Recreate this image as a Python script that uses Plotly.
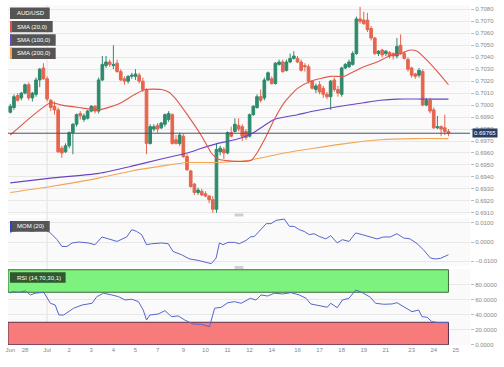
import plotly.graph_objects as go

# ---------------- data (AUD/USD, 4H candles, 27 Jun - 24 Jul) ----------------
candle_open = [0.6994, 0.6998, 0.7008, 0.7006, 0.7010, 0.7017, 0.7006, 0.7009, 0.7021, 0.7031,
               0.7022, 0.7004, 0.6999, 0.6996, 0.6964, 0.6961, 0.6966, 0.6977, 0.6984, 0.6993,
               0.6988, 0.6989, 0.6995, 0.6999, 0.6995, 0.7021, 0.7033, 0.7036, 0.7033, 0.7035,
               0.7028, 0.7022, 0.7020, 0.7024, 0.7024, 0.7025, 0.7020, 0.7013, 0.6968, 0.6980,
               0.6983, 0.6981, 0.6984, 0.6988, 0.6992, 0.6971, 0.6968, 0.6974, 0.6957, 0.6945,
               0.6934, 0.6927, 0.6928, 0.6926, 0.6924, 0.6921, 0.6913, 0.6961, 0.6963, 0.6960,
               0.6977, 0.6978, 0.6983, 0.6982, 0.6978, 0.6974, 0.6992, 0.6998, 0.7007, 0.7006,
               0.7021, 0.7022, 0.7018, 0.7034, 0.7036, 0.7029, 0.7036, 0.7039, 0.7039, 0.7036,
               0.7033, 0.7032, 0.7020, 0.7013, 0.7017, 0.7014, 0.7009, 0.7007, 0.7021, 0.7013,
               0.7009, 0.7031, 0.7032, 0.7034, 0.7043, 0.7072, 0.7071, 0.7071, 0.7064, 0.7056,
               0.7043, 0.7046, 0.7043, 0.7044, 0.7043, 0.7041, 0.7050, 0.7043, 0.7038, 0.7031,
               0.7026, 0.7025, 0.7028, 0.7000, 0.7004, 0.6996, 0.6981, 0.6982, 0.6981, 0.6978]
candle_high = [0.7001, 0.7009, 0.7010, 0.7011, 0.7018, 0.7019, 0.7011, 0.7023, 0.7031, 0.7035,
               0.7024, 0.7005, 0.7003, 0.6998, 0.6966, 0.6968, 0.6978, 0.6985, 0.6993, 0.6995,
               0.6993, 0.6996, 0.7000, 0.7000, 0.7023, 0.7041, 0.7041, 0.7038, 0.7050, 0.7038,
               0.7030, 0.7024, 0.7025, 0.7027, 0.7030, 0.7027, 0.7023, 0.7014, 0.6984, 0.6984,
               0.6985, 0.6986, 0.6993, 0.6995, 0.6993, 0.6975, 0.6977, 0.6976, 0.6959, 0.6946,
               0.6935, 0.6931, 0.6930, 0.6928, 0.6925, 0.6924, 0.6968, 0.6966, 0.6965, 0.6978,
               0.6982, 0.6989, 0.6989, 0.6984, 0.6980, 0.6993, 0.7000, 0.7009, 0.7013, 0.7023,
               0.7028, 0.7024, 0.7036, 0.7038, 0.7038, 0.7038, 0.7043, 0.7045, 0.7041, 0.7038,
               0.7035, 0.7034, 0.7021, 0.7018, 0.7020, 0.7016, 0.7011, 0.7021, 0.7023, 0.7016,
               0.7032, 0.7035, 0.7038, 0.7045, 0.7074, 0.7082, 0.7078, 0.7077, 0.7066, 0.7057,
               0.7046, 0.7047, 0.7046, 0.7045, 0.7044, 0.7056, 0.7059, 0.7045, 0.7040, 0.7032,
               0.7027, 0.7031, 0.7030, 0.7006, 0.7006, 0.6998, 0.6991, 0.6983, 0.6992, 0.6980]
candle_low = [0.6993, 0.6996, 0.7003, 0.7004, 0.7009, 0.7004, 0.7003, 0.7007, 0.7015, 0.7021,
              0.7003, 0.6995, 0.6992, 0.6960, 0.6956, 0.6960, 0.6964, 0.6959, 0.6982, 0.6988,
              0.6986, 0.6988, 0.6994, 0.6993, 0.6993, 0.7020, 0.7031, 0.7032, 0.7030, 0.7027,
              0.7020, 0.7017, 0.7018, 0.7022, 0.7021, 0.7018, 0.7011, 0.6959, 0.6967, 0.6978,
              0.6977, 0.6980, 0.6982, 0.6986, 0.6967, 0.6967, 0.6966, 0.6956, 0.6945, 0.6931,
              0.6925, 0.6925, 0.6924, 0.6923, 0.6918, 0.6910, 0.6910, 0.6958, 0.6955, 0.6959,
              0.6973, 0.6977, 0.6978, 0.6970, 0.6971, 0.6973, 0.6991, 0.6997, 0.7002, 0.7004,
              0.7020, 0.7017, 0.7017, 0.7033, 0.7027, 0.7028, 0.7035, 0.7038, 0.7035, 0.7028,
              0.7028, 0.7018, 0.7013, 0.7010, 0.7009, 0.7006, 0.7005, 0.6996, 0.7011, 0.7007,
              0.7007, 0.7030, 0.7031, 0.7033, 0.7042, 0.7068, 0.7067, 0.7061, 0.7054, 0.7042,
              0.7041, 0.7040, 0.7041, 0.7039, 0.7038, 0.7039, 0.7042, 0.7038, 0.7028, 0.7023,
              0.7022, 0.7023, 0.6999, 0.6999, 0.6993, 0.6980, 0.6980, 0.6974, 0.6975, 0.6974]
candle_close = [0.6999, 0.7007, 0.7004, 0.7010, 0.7017, 0.7006, 0.7010, 0.7021, 0.7030, 0.7022,
                0.7005, 0.6998, 0.6996, 0.6961, 0.6960, 0.6966, 0.6977, 0.6984, 0.6992, 0.6991,
                0.6991, 0.6995, 0.6999, 0.6995, 0.7021, 0.7034, 0.7036, 0.7034, 0.7034, 0.7028,
                0.7021, 0.7020, 0.7024, 0.7025, 0.7026, 0.7020, 0.7013, 0.6968, 0.6982, 0.6982,
                0.6980, 0.6985, 0.6992, 0.6993, 0.6968, 0.6968, 0.6975, 0.6957, 0.6946, 0.6932,
                0.6927, 0.6929, 0.6925, 0.6924, 0.6921, 0.6913, 0.6963, 0.6964, 0.6960, 0.6977,
                0.6974, 0.6984, 0.6980, 0.6974, 0.6973, 0.6992, 0.6999, 0.7007, 0.7004, 0.7021,
                0.7027, 0.7018, 0.7035, 0.7036, 0.7028, 0.7036, 0.7039, 0.7041, 0.7036, 0.7029,
                0.7032, 0.7020, 0.7014, 0.7016, 0.7011, 0.7009, 0.7007, 0.7020, 0.7013, 0.7010,
                0.7031, 0.7034, 0.7036, 0.7043, 0.7072, 0.7070, 0.7068, 0.7063, 0.7056, 0.7043,
                0.7045, 0.7042, 0.7045, 0.7041, 0.7041, 0.7049, 0.7043, 0.7039, 0.7030, 0.7025,
                0.7024, 0.7029, 0.7000, 0.7004, 0.6995, 0.6981, 0.6982, 0.6980, 0.6978, 0.69765]
candle_idx = list(range(len(candle_close)))

day_tick_pos = [0, 4, 10, 16, 22, 28, 34, 40, 47, 53, 59, 65, 71, 78, 84, 90, 96, 102, 109, 115, 121]
day_tick_text = ["Jun", "28", "Jul", "2", "3", "4", "5", "7", "9", "10", "11", "12",
                 "14", "16", "17", "18", "19", "21", "23", "24", "25"]

sma20_x = [0, 11, 14, 18.6, 24, 29.4, 33.9, 36.6, 41, 43, 44.7, 48.3, 52, 54.6, 56.4, 61, 63.5,
           65.5, 67, 69, 71.7, 74.4, 78, 81.6, 87, 90.6, 93.3, 96, 99.6, 103, 106, 108.6, 110.5,
           113, 116, 119]
sma20_y = [0.6975, 0.7002, 0.7000, 0.6998, 0.6996, 0.7001, 0.7009, 0.7013, 0.7013, 0.7011,
           0.7006, 0.6991, 0.6974, 0.6960, 0.6955, 0.6953, 0.6953, 0.6954, 0.6960, 0.6971,
           0.6988, 0.7002, 0.7014, 0.7020, 0.7024, 0.7024, 0.7028, 0.7032, 0.7036, 0.7041,
           0.7043, 0.7046, 0.7045, 0.7038, 0.7028, 0.7017]

sma100_x = [0, 11, 24, 33, 41, 48, 52, 56.4, 61, 65.5, 69, 71.7, 78, 82.5, 89.7, 96, 100.5, 105, 112, 119]
sma100_y = [0.6935, 0.6939, 0.6943, 0.6949, 0.6955, 0.6960, 0.6964, 0.6968, 0.6971, 0.6976,
            0.6983, 0.6988, 0.6992, 0.6995, 0.6999, 0.7002, 0.7004, 0.7005, 0.7005, 0.7005]

sma200_x = [0, 11, 24, 33, 41, 48, 56, 61, 65, 74.4, 82.5, 91.5, 100.5, 109.5, 119]
sma200_y = [0.6927, 0.6932, 0.6939, 0.6945, 0.6949, 0.6952, 0.6952, 0.6953, 0.6954, 0.6960,
            0.6964, 0.6968, 0.6971, 0.6972, 0.6972]

mom_x = [0, 0.5, 3.2, 6, 7.8, 9.5, 10.9, 12.7, 14, 15.4, 16.8, 18.6, 21.2, 23, 24.9, 26.7, 29,
         31.6, 33, 34.3, 35.7, 37, 38.4, 41.1, 42.9, 44.2, 46.5, 48.7, 51, 53.2, 54.6, 55.9,
         56.8, 57.8, 59.1, 60.9, 62.2, 64, 65.2, 66.3, 68.1, 69.5, 70.8, 72.2, 74.4, 75.8,
         77.1, 78.5, 79.8, 81.2, 82.5, 83.9, 85.7, 87, 88.8, 90.2, 92, 93.8, 95.6, 97.8, 99.6,
         101.4, 103.2, 105, 106.8, 108.6, 110.5, 112.2, 114.1, 115.4, 116.8, 119]
mom_y = [0.0047, 0.0055, 0.0064, 0.0055, 0.0064, 0.0064, 0.0047, 0.0012, -0.0023, -0.0023,
         -0.0005, 0.0000, -0.0005, -0.0014, 0.0026, 0.0016, 0.0003, 0.0026, 0.0064, 0.0055,
         0.0038, -0.0014, -0.0009, -0.0005, -0.0009, -0.0049, -0.0066, -0.0088, -0.0095,
         -0.0106, -0.0112, -0.0083, -0.0005, -0.0014, -0.0002, -0.0002, -0.0009, 0.0008,
         0.0026, 0.0029, 0.0064, 0.0095, 0.0095, 0.0112, 0.0119, 0.0081, 0.0081, 0.0064,
         0.0055, 0.0038, 0.0043, 0.0029, 0.0016, 0.0033, -0.0005, 0.0012, 0.0003, 0.0047,
         0.0038, 0.0026, 0.0016, 0.0026, 0.0026, 0.0043, 0.0021, 0.0016, -0.0009, -0.0040,
         -0.0083, -0.0088, -0.0085, -0.0066]

rsi_x = [0, 0.5, 2.3, 4.1, 5.5, 6.8, 9.1, 10, 10.9, 12.2, 13.2, 14.5, 15.9, 17.2, 19.5, 20.8,
         22.2, 23.5, 25.3, 27.6, 29.4, 31.2, 33, 34.8, 36.1, 37, 37.9, 40.2, 42, 43.8, 45.6,
         47.4, 49.6, 51.9, 53.2, 54.1, 55.5, 57.3, 59.1, 60.9, 62.7, 64.1, 65.2, 66.7, 68.1,
         69.9, 71.7, 74, 76.2, 78.5, 80.3, 81.6, 83.9, 86.1, 87, 88.8, 90.2, 92, 93.8, 95.6,
         97.8, 99.2, 101.4, 103.7, 105, 106.8, 109.1, 110.9, 111.8, 113.2, 114.5, 116.3, 119]
rsi_y = [68.7, 70.8, 70.0, 71.7, 66.4, 68.7, 70.0, 62.0, 55.3, 53.0, 39.7, 39.7, 44.1, 48.7,
         53.0, 54.4, 55.3, 64.1, 68.7, 66.4, 64.1, 59.7, 60.7, 57.5, 46.4, 33.0, 39.7, 41.0,
         45.5, 37.5, 38.4, 33.0, 27.7, 27.3, 26.0, 24.1, 48.7, 50.0, 56.1, 57.5, 55.3, 58.8,
         62.0, 59.7, 66.4, 65.0, 68.7, 67.7, 69.5, 66.4, 62.0, 54.4, 51.7, 50.0, 55.3, 49.5,
         59.7, 62.0, 73.0, 69.5, 63.3, 55.3, 54.0, 54.4, 56.1, 50.8, 44.1, 46.4, 37.5, 36.7,
         30.8, 29.5, 29.5]

last_price = 0.69765
rsi_upper = 70
rsi_lower = 30
month_start_pos = 10

# ---------------- layout geometry (pixels) ----------------
W, H = 504, 367
ML, MR, MT, MB = 5, 34, 5, 22
PW = W - ML - MR
PH = H - MT - MB


def px(x):
    return (x - ML) / PW


def py(y):
    return (H - MB - y) / PH


GREEN = "#2f8a6c"
RED = "#e5664f"
C_SMA20 = "#e0574a"
C_SMA100 = "#6a45c2"
C_SMA200 = "#f3a552"
C_IND = "#5566cc"
GRID = "#e8e8e8"
FONT = "Liberation Sans, Arial, sans-serif"
TICKFONT = dict(family=FONT, size=6, color="#888888")

X_RANGE = [-0.62, 124.85]

fig = go.Figure()

fig.add_trace(go.Candlestick(
    x=candle_idx, open=candle_open, high=candle_high, low=candle_low, close=candle_close,
    xaxis="x", yaxis="y",
    increasing=dict(line=dict(color=GREEN, width=1), fillcolor=GREEN),
    decreasing=dict(line=dict(color=RED, width=1), fillcolor=RED),
    whiskerwidth=0, showlegend=False, hoverinfo="skip"))

for sx, sy, col in [(sma200_x, sma200_y, C_SMA200), (sma100_x, sma100_y, C_SMA100),
                    (sma20_x, sma20_y, C_SMA20)]:
    fig.add_trace(go.Scatter(x=sx, y=sy, mode="lines", xaxis="x", yaxis="y",
                             line=dict(color=col, width=1.1, shape="spline", smoothing=0.6),
                             showlegend=False, hoverinfo="skip"))

fig.add_trace(go.Scatter(x=mom_x, y=mom_y, mode="lines", xaxis="x", yaxis="y2",
                         line=dict(color=C_IND, width=1), showlegend=False, hoverinfo="skip"))
fig.add_trace(go.Scatter(x=rsi_x, y=rsi_y, mode="lines", xaxis="x", yaxis="y3",
                         line=dict(color=C_IND, width=1), showlegend=False, hoverinfo="skip"))

shapes = []
shapes.append(dict(type="line", xref="x", yref="paper", x0=month_start_pos, x1=month_start_pos,
                   y0=0, y1=1, line=dict(color="#e2e2e2", width=1), layer="below"))
last_idx = candle_idx[-1]
shapes.append(dict(type="rect", xref="x", yref="y3", x0=X_RANGE[0], x1=last_idx,
                   y0=rsi_upper, y1=100, fillcolor="#7ef27e",
                   line=dict(color="#3d6b3d", width=1), layer="between"))
shapes.append(dict(type="rect", xref="x", yref="y3", x0=X_RANGE[0], x1=last_idx,
                   y0=0, y1=rsi_lower, fillcolor="#f77b7b",
                   line=dict(color="#5a2f4f", width=1), layer="between"))
shapes.append(dict(type="line", xref="paper", yref="y", x0=0, x1=1, y0=last_price, y1=last_price,
                   line=dict(color="#46526b", width=1), layer="above"))
for gy in (213.5, 266):
    shapes.append(dict(type="rect", xref="paper", yref="paper", x0=px(233), x1=px(242),
                       y0=py(gy + 3), y1=py(gy), fillcolor="#cfcfcf", line=dict(width=0)))

annotations = []


def label_box(x0, x1, y0, y1, text, bg, stripe=None):
    shapes.append(dict(type="rect", xref="paper", yref="paper", x0=px(x0), x1=px(x1),
                       y0=py(y1), y1=py(y0), fillcolor=bg, line=dict(width=0), layer="above"))
    if stripe:
        shapes.append(dict(type="rect", xref="paper", yref="paper", x0=px(x0), x1=px(x0 + 2),
                           y0=py(y1), y1=py(y0), fillcolor=stripe, line=dict(width=0),
                           layer="above"))
    annotations.append(dict(xref="paper", yref="paper", x=px(x0 + 5), y=py((y0 + y1) / 2),
                            text=text, showarrow=False, xanchor="left", yanchor="middle",
                            font=dict(family=FONT, size=6, color="white")))


label_box(7, 47, 7.5, 19, "AUD/USD", "#555555")
label_box(7, 50, 21, 32.3, "SMA (20,0)", "#555555", C_SMA20)
label_box(7, 53, 34.3, 45.7, "SMA (100,0)", "#555555", C_SMA100)
label_box(7, 53, 47.7, 59, "SMA (200,0)", "#555555", C_SMA200)
label_box(7, 47, 221, 231.7, "MOM (20)", "#555555", "#3344bb")
label_box(7, 63, 272.3, 282.7, "RSI (14,70,30,1)", "#2f5a2f")

annotations.append(dict(xref="paper", yref="y", x=px(472), y=last_price, text="0.69765",
                        showarrow=False, xanchor="left", yanchor="middle",
                        bgcolor="#2b3d60", borderpad=1,
                        font=dict(family=FONT, size=6, color="white")))

yaxis_common = dict(side="right", anchor="x", showgrid=True, gridcolor=GRID, gridwidth=1,
                    zeroline=False, ticks="outside", ticklen=3, tickcolor="#bbbbbb",
                    tickfont=TICKFONT, tickformat=".4f", fixedrange=True)

fig.update_layout(
    width=W, height=H,
    margin=dict(l=ML, r=MR, t=MT, b=MB),
    paper_bgcolor="white", plot_bgcolor="#fafafa",
    boxgap=0.2, boxgroupgap=0.1,
    showlegend=False,
    xaxis=dict(domain=[0, 1], anchor="y3", range=X_RANGE, tickmode="array",
               tickvals=day_tick_pos, ticktext=day_tick_text, showgrid=False,
               zeroline=False, ticks="", tickfont=TICKFONT, rangeslider=dict(visible=False),
               fixedrange=True),
    yaxis=dict(domain=[py(215), 1], range=[0.69082, 0.70836], dtick=0.001, tick0=0.691,
               **yaxis_common),
    yaxis2=dict(domain=[py(266), py(218)], range=[-0.01244, 0.01244],
                tickmode="array", tickvals=[-0.01, 0, 0.01], **yaxis_common),
    yaxis3=dict(domain=[0, py(269)], range=[-0.3, 101], tickmode="array",
                tickvals=[0, 20, 40, 60, 80], **yaxis_common),
    shapes=shapes,
    annotations=annotations,
)

fig.write_html("out.html", config={"displayModeBar": False},
               post_script="document.body.style.margin='0';")
